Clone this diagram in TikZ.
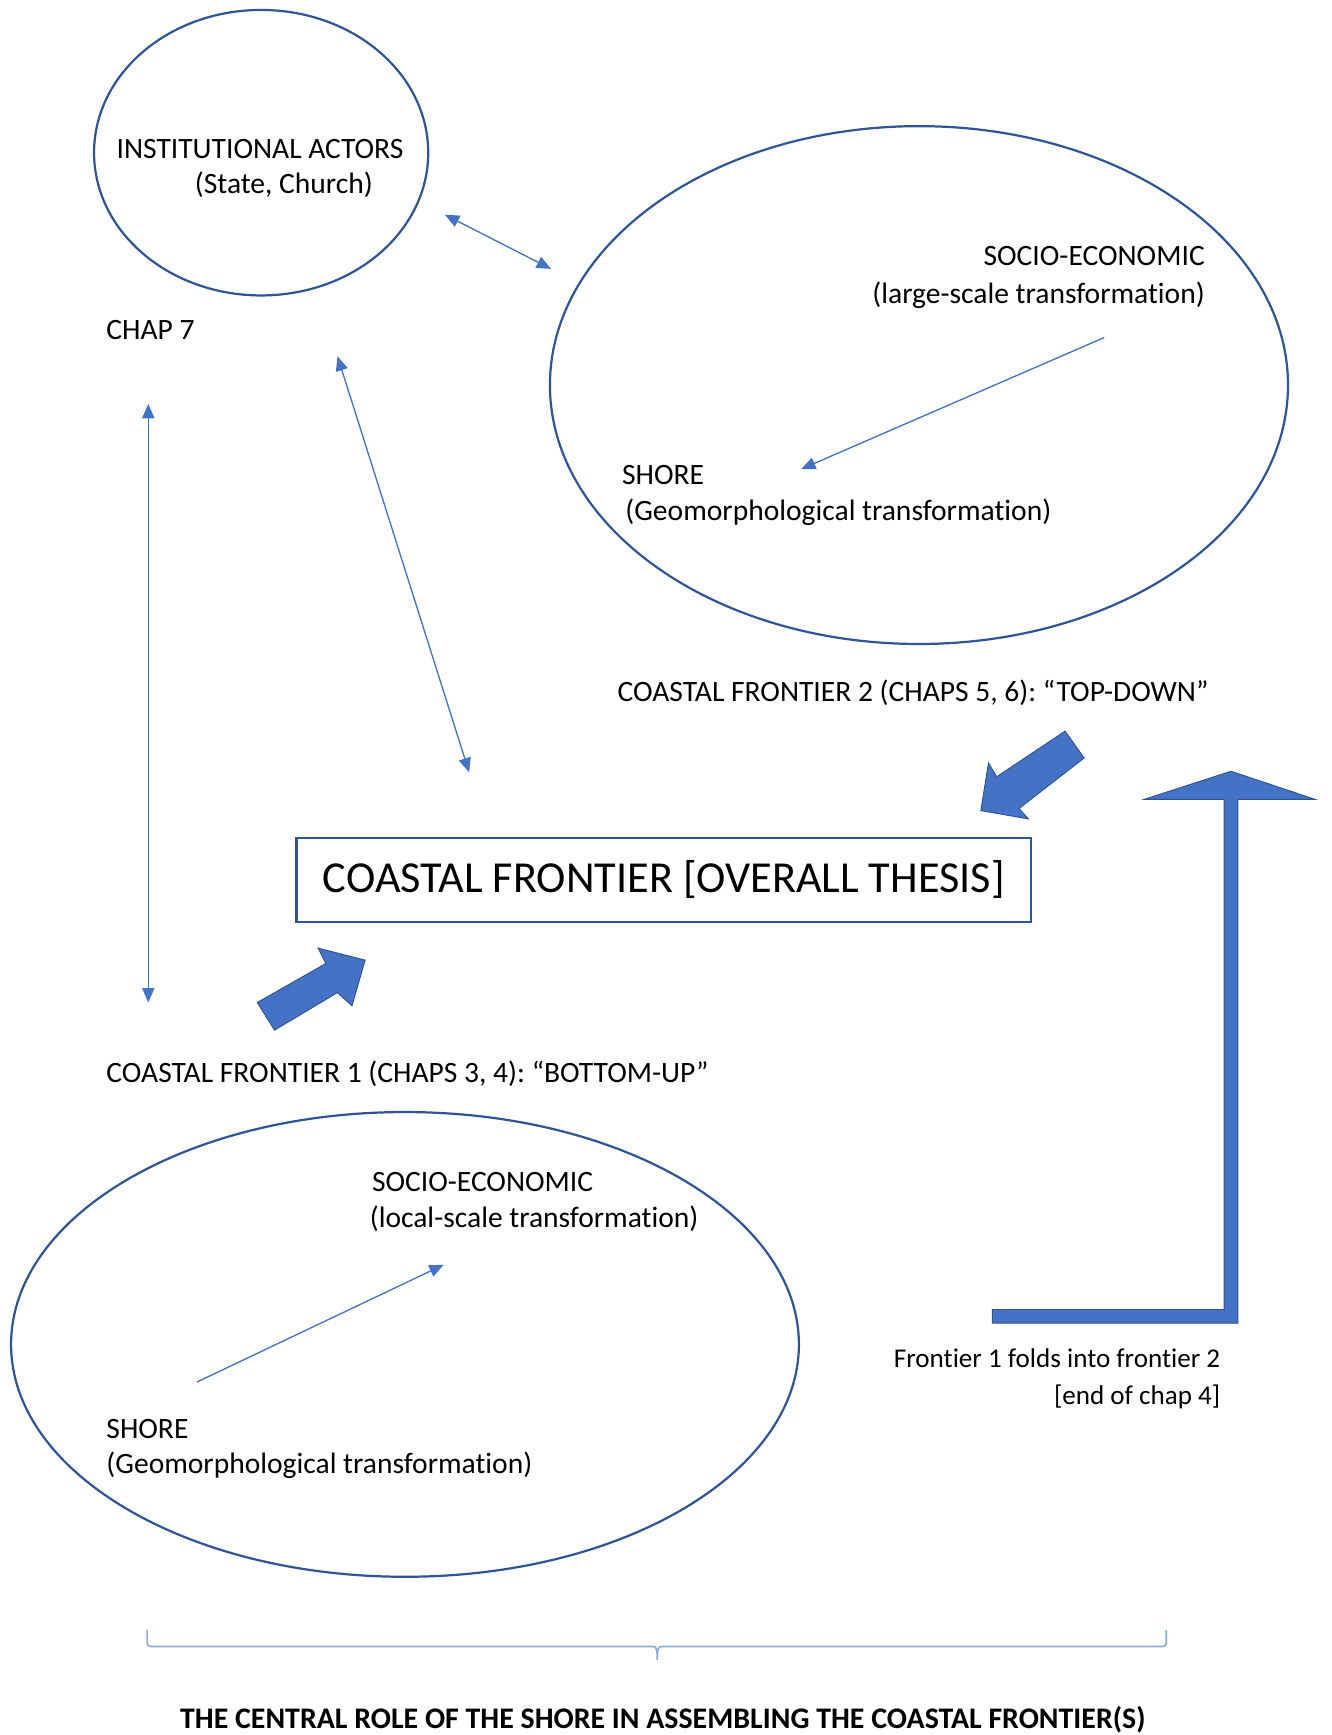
\documentclass[tikz,border=0pt]{standalone}
\usepackage{fontspec}
\setmainfont{Carlito}[RawFeature={-liga;-clig;-calt;-dlig;-rlig}]
\usetikzlibrary{arrows.meta,shapes.geometric}
\definecolor{dblue}{HTML}{2F5597}
\definecolor{mblue}{HTML}{4472C4}
\definecolor{oblue}{HTML}{2F528F}
\definecolor{lblue}{HTML}{8FAADC}
\frenchspacing
\tikzset{
  circ/.style={ellipse, draw=dblue, line width=2pt, inner sep=0pt},
  txt/.style={inner sep=0pt, font=\fontsize{26.7}{32}\selectfont},
  smalltxt/.style={inner sep=0pt, font=\fontsize{24.5}{30}\selectfont},
  thin/.style={draw=mblue, line width=1.2pt},
  both/.style={thin, {Triangle[length=13pt,width=11pt]}-{Triangle[length=13pt,width=11pt]}},
  one/.style={thin, -{Triangle[length=13pt,width=11pt]}},
  block/.style={fill=mblue, draw=oblue, line width=0.8pt, line join=miter},
}
\begin{document}
\begin{tikzpicture}[x=1pt,y=-1pt]
\useasboundingbox (0,0) rectangle (1203,1568);
% ellipses
\node[circ, minimum width=302pt, minimum height=258pt] (inst) at (236,138) {};
\node[circ, minimum width=667pt, minimum height=468pt] (top) at (830.5,348) {};
\node[circ, minimum width=712pt, minimum height=420pt] (bot) at (366,1215) {};
% central box
\node[draw=dblue, line width=2pt, minimum width=664pt, minimum height=76pt, inner sep=0pt,
      font=\fontsize{40}{48}\selectfont] (thesis) at (600,795) {COASTAL FRONTIER [OVERALL THESIS]};
% texts
\node[txt, anchor=base] (t1) at (235,143) {INSTITUTIONAL ACTORS};
\node[txt, anchor=base west] (t2) at (176,175) {(State, Church)};
\node[txt, anchor=base west] (chap7) at (96,307) {CHAP 7};
\node[txt, anchor=base east] (se1) at (1089,240) {SOCIO-ECONOMIC};
\node[txt, anchor=base east] (se2) at (1089,274) {(large-scale transformation)};
\node[txt, anchor=base west] (sh1) at (562,438) {SHORE};
\node[txt, anchor=base west] (sh2) at (565,470) {(Geomorphological transformation)};
\node[txt, anchor=base west] (cf2) at (558,634) {COASTAL FRONTIER 2 (CHAPS 5, 6): “TOP-DOWN”};
\node[txt, anchor=base west] (cf1) at (96,978) {COASTAL FRONTIER 1 (CHAPS 3, 4): “BOTTOM-UP”};
\node[txt, anchor=base west] (lse1) at (336,1077) {SOCIO-ECONOMIC};
\node[txt, anchor=base west] (lse2) at (334,1109) {(local-scale transformation)};
\node[txt, anchor=base west] (lsh1) at (96,1300) {SHORE};
\node[txt, anchor=base west] (lsh2) at (96,1332) {(Geomorphological transformation)};
\node[smalltxt, anchor=base east] (fold1) at (1103,1236) {Frontier 1 folds into frontier 2};
\node[smalltxt, anchor=base east] (fold2) at (1103,1269) {[end of chap 4]};
\node[inner sep=0pt, anchor=base, font=\fontsize{27}{32}\selectfont\bfseries] (title) at (599,1562)
  {THE CENTRAL ROLE OF THE SHORE IN ASSEMBLING THE COASTAL FRONTIER(S)};
% connector end points
\coordinate (a1) at (402,194);
\coordinate (a2) at (498,243);
\coordinate (b1) at (305,322);
\coordinate (b2) at (424,698);
\coordinate (c1) at (134,365);
\coordinate (c2) at (134,906);
\coordinate (d1) at (998,305);
\coordinate (d2) at (724,424);
\coordinate (e1) at (178,1249);
\coordinate (e2) at (401,1143);
\draw[both] (a1) -- (a2);
\draw[both] (b1) -- (b2);
\draw[both] (c1) -- (c2);
\draw[one] (d1) -- (d2);
\draw[one] (e1) -- (e2);
% block arrows
\draw[block] (962.6,660.7) -- (979.8,685) -- (921,730.7) -- (929.4,740.1) -- (886.4,732.6)
  -- (893.3,689.5) -- (900.8,701.9) -- cycle;
\draw[block] (232.5,906) -- (294.5,870.7) -- (287.4,856.8) -- (330,867.7) -- (318.1,909)
  -- (304.9,897.1) -- (248.1,931) -- cycle;
\draw[block] (896.9,1183.4) -- (1106.3,1183.4) -- (1106.3,722.4) -- (1034,722.4) -- (1112.5,697)
  -- (1188.5,722.4) -- (1118.7,722.4) -- (1118.7,1195.8) -- (896.9,1195.8) -- cycle;
% brace
\draw[draw=lblue, line width=1.5pt, rounded corners=3pt] (133,1473) -- (133,1488) -- (590,1488);
\draw[draw=lblue, line width=1.5pt, rounded corners=3pt] (1054,1473) -- (1054,1488) -- (598,1488);
\draw[draw=lblue, line width=1.5pt] (590,1488) .. controls (593,1488) and (594,1490) .. (594,1500)
  .. controls (594,1490) and (595,1488) .. (598,1488);
\end{tikzpicture}
\end{document}
